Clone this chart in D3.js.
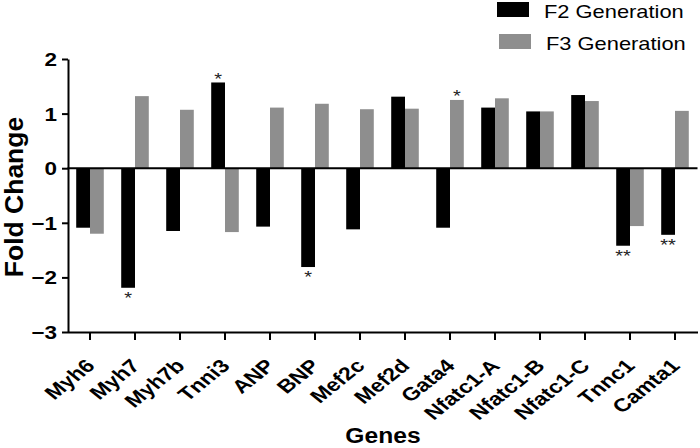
<!DOCTYPE html>
<html><head><meta charset="utf-8">
<script src="https://cdn.jsdelivr.net/npm/d3@7"></script>
<style>body{margin:0;background:#fff}svg{display:block}text{font-family:"Liberation Sans",Arial,sans-serif}</style>
</head><body><svg id="c" width="700" height="448"></svg>
<script>
const genes = ["Myh6","Myh7","Myh7b","Tnni3","ANP","BNP","Mef2c","Mef2d","Gata4","Nfatc1-A","Nfatc1-B","Nfatc1-C","Tnnc1","Camta1"];
const seriesNames = ["F2 Generation","F3 Generation"];
const f2Values = [-1.09,-2.19,-1.15,1.57,-1.07,-1.81,-1.12,1.31,-1.09,1.11,1.04,1.34,-1.42,-1.22];
const f3Values = [-1.20,1.32,1.07,-1.17,1.11,1.18,1.08,1.09,1.25,1.28,1.04,1.23,-1.06,1.05];
const f2Sig = ["","*","","*","","*","","","","","","","**","**"];
const f3Sig = ["","","","","","","","","*","","","","",""];
const yTicks = [-3,-2,-1,0,1,2];
const colors = ["#000000","#8e8e8e"];

const SX = 1.25;
const svg = d3.select("#c");
const x = d3.scaleBand().domain(genes).range([67.5,697.5]).paddingInner(0.387).paddingOuter(0.1935);
const xs = d3.scaleBand().domain(seriesNames).range([0,x.bandwidth()]);
const y = d3.scaleLinear().domain([-3,2]).range([332,59]);

const data = genes.map((g,i)=>({gene:g, vals:[
  {s:seriesNames[0], v:f2Values[i], sig:f2Sig[i], c:colors[0]},
  {s:seriesNames[1], v:f3Values[i], sig:f3Sig[i], c:colors[1]}]}));

// bars
const grp = svg.append("g").selectAll("g").data(data).join("g")
  .attr("transform", d=>`translate(${x(d.gene)},0)`);
grp.selectAll("rect").data(d=>d.vals).join("rect")
  .attr("x", d=>xs(d.s)).attr("width", xs.bandwidth())
  .attr("y", d=>y(Math.max(0,d.v)))
  .attr("height", d=>Math.abs(y(d.v)-y(0)))
  .attr("fill", d=>d.c);
grp.selectAll("text.sig").data(d=>d.vals.filter(v=>v.sig)).join("text")
  .attr("class","sig")
  .attr("text-anchor","middle")
  .attr("font-size",16).attr("fill","#222")
  .attr("transform", d=>{
    const cx = xs(d.s)+xs.bandwidth()/2;
    const cy = d.v<0 ? y(d.v)+7+9.3 : y(d.v)-7+9.3;
    return `translate(${cx},${cy}) scale(${SX},1)`;})
  .text(d=>d.sig);

// zero line
svg.append("line").attr("x1",x.range()[0]).attr("x2",x.range()[1])
  .attr("y1",y(0)).attr("y2",y(0)).attr("stroke","#000").attr("stroke-width",2);

// y axis
const ya = svg.append("g").attr("transform","translate(68,0)")
  .call(d3.axisLeft(y).tickValues(yTicks).tickSize(6).tickSizeOuter(0).tickFormat(d3.format("d")));
ya.select(".domain").attr("stroke-width",2);
ya.selectAll(".tick line").attr("stroke-width",2);
ya.selectAll(".tick text").attr("x",null).attr("dy","0.36em")
  .attr("transform",`translate(-11,0) scale(${SX},1)`)
  .attr("font-size",18).attr("font-weight","bold").attr("font-family","Liberation Sans, Arial, sans-serif").attr("fill","#000");

// x axis at bottom
const xa = svg.append("g").attr("transform",`translate(0,${y(-3)})`)
  .call(d3.axisBottom(x).tickSize(8).tickSizeOuter(0));
xa.select(".domain").attr("stroke-width",2);
xa.selectAll(".tick line").attr("stroke-width",2);
xa.selectAll(".tick text").remove();
xa.selectAll(".tick").append("text")
  .attr("text-anchor","end").attr("fill","#000")
  .attr("font-size",18.5).attr("font-weight","bold").attr("font-family","Liberation Sans, Arial, sans-serif")
  .attr("transform",`translate(6,35) scale(${SX},1) rotate(-45)`)
  .text(d=>d);

// axis titles
svg.append("text").attr("text-anchor","middle").attr("font-weight","bold").attr("font-size",26.5)
  .attr("transform","translate(23,197) rotate(-90)").text("Fold Change");
svg.append("text").attr("text-anchor","middle").attr("font-weight","bold").attr("font-size",22)
  .attr("transform",`translate(383,443) scale(1.12,1)`).text("Genes");

// legend
const lg = svg.append("g").selectAll("g").data(seriesNames).join("g")
  .attr("transform",(d,i)=>`translate(${i?499:497},${i?34:2})`);
lg.append("rect").attr("width",32).attr("height",15).attr("fill",(d,i)=>colors[i]);
lg.append("text").attr("font-size",17.5).attr("fill","#000")
  .attr("transform",`translate(47,15.5) scale(${SX},1)`).text(d=>d);
</script></body></html>
